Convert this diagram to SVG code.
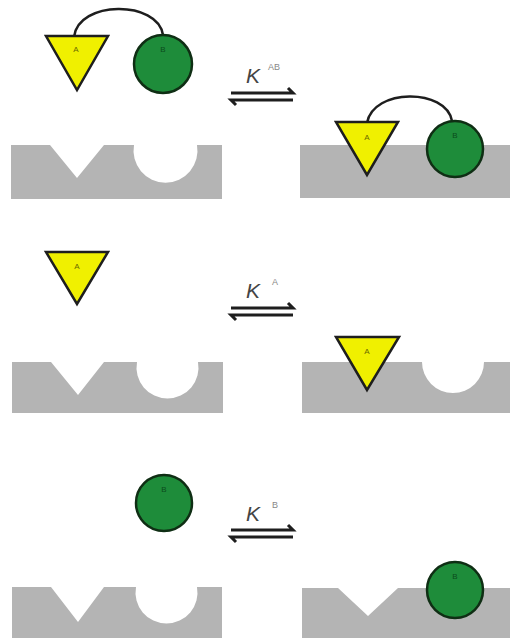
<svg xmlns="http://www.w3.org/2000/svg" width="510" height="638" viewBox="0 0 510 638">
<style>
.surf{fill:#b4b4b4;stroke:none}
.triA{fill:#f0f000;stroke:#1e1e1e;stroke-width:2.5;stroke-linejoin:miter}
.cirB{fill:#1e8c3a;stroke:#0f2e14;stroke-width:2.5}
.lnk{fill:none;stroke:#1e1e1e;stroke-width:2.5}
.lblA{font-family:"Liberation Sans",Arial,sans-serif;font-size:8px;fill:#6b6b00;text-anchor:middle}
.lblB{font-family:"Liberation Sans",Arial,sans-serif;font-size:8px;fill:#0b4d1c;text-anchor:middle}
.K{font-family:"Liberation Sans",Arial,sans-serif;font-style:italic;font-size:21px;fill:#444}
.sup{font-family:"Liberation Sans",Arial,sans-serif;font-size:9px;fill:#888}
.arr{fill:none;stroke:#1e1e1e;stroke-width:3}
</style>
<rect width="510" height="638" fill="#fff"/>

<!-- Row 1 -->
<g id="surface-1-left">
<path class="surf" d="M11 145 H50 L77 178 L104 145 H134 A32 32 0 1 0 197 145 H222 V199 H11 Z"/>
</g>
<g id="AB-free">
<path class="lnk" d="M74 37 C78 0 158 0 163 35"/>
<path class="triA" d="M46 36 H108 L77 90 Z"/>
<text class="lblA" x="76" y="52">A</text>
<circle class="cirB" cx="163" cy="64" r="29"/>
<text class="lblB" x="163" y="52">B</text>
</g>
<g id="surface-1-right">
<rect class="surf" x="300" y="145" width="210" height="53"/>
</g>
<g id="AB-bound">
<path class="lnk" d="M367 123 C373 88 446 88 452 121"/>
<path class="triA" d="M336 122 H398 L367 175 Z"/>
<text class="lblA" x="367" y="140">A</text>
<circle class="cirB" cx="455" cy="149" r="28"/>
<text class="lblB" x="455" y="138">B</text>
</g>

<!-- Row 2 -->
<g id="surface-2-left">
<path class="surf" d="M12 362 H51 L78 395 L104 362 H137 A31 31 0 1 0 198 362 H223 V413 H12 Z"/>
</g>
<g id="A-free">
<path class="triA" d="M46 252 H108 L77 304 Z"/>
<text class="lblA" x="77" y="269">A</text>
</g>
<g id="surface-2-right">
<path class="surf" d="M302 362 H422 A31 31 0 1 0 484 362 H510 V413 H302 Z"/>
</g>
<g id="A-bound">
<path class="triA" d="M336 337 H399 L367 390 Z"/>
<text class="lblA" x="367" y="354">A</text>
</g>

<!-- Row 3 -->
<g id="surface-3-left">
<path class="surf" d="M12 587 H51 L78 622 L104 587 H136 A31 31 0 1 0 197 587 H222 V638 H12 Z"/>
</g>
<g id="B-free">
<circle class="cirB" cx="164" cy="503" r="28"/>
<text class="lblB" x="164" y="492">B</text>
</g>
<g id="surface-3-right">
<path class="surf" d="M302 588 H338 L368 616 L398 588 H510 V638 H302 Z"/>
</g>
<g id="B-bound">
<circle class="cirB" cx="455" cy="590" r="28"/>
<text class="lblB" x="455" y="579">B</text>
</g>

<!-- Equilibrium arrows and labels -->
<g id="connectors">
<g id="eq-1">
<path class="arr" d="M231 93 H293 L288 88"/>
<path class="arr" d="M293 100 H231 L236 105"/>
<text class="K" x="246" y="83">K</text>
<text class="sup" x="268" y="70">AB</text>
</g>
<g id="eq-2">
<path class="arr" d="M231 308 H293 L288 303"/>
<path class="arr" d="M293 315 H231 L236 320"/>
<text class="K" x="246" y="298">K</text>
<text class="sup" x="272" y="285">A</text>
</g>
<g id="eq-3">
<path class="arr" d="M231 530 H293 L288 525"/>
<path class="arr" d="M293 537 H231 L236 542"/>
<text class="K" x="246" y="521">K</text>
<text class="sup" x="272" y="508">B</text>
</g>
</g>
</svg>
